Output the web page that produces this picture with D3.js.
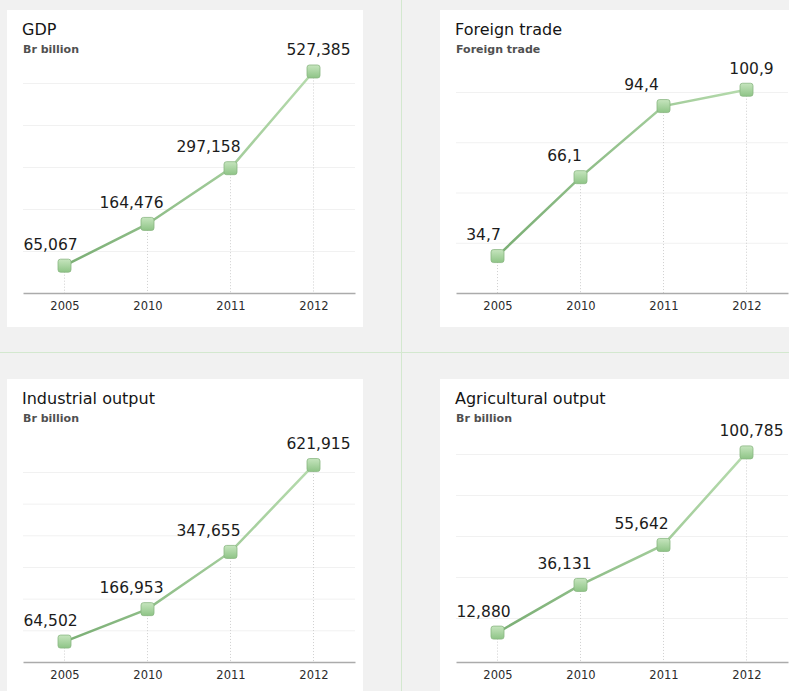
<!DOCTYPE html>
<html>
<head>
<meta charset="utf-8">
<script src="https://cdn.jsdelivr.net/npm/d3@7"></script>
<style>
  body { margin: 0; background: #f1f1f1; }
  svg { display: block; font-family: "DejaVu Sans", Verdana, sans-serif; }
</style>
</head>
<body>
<svg width="789" height="691"></svg>
<script>
// Data
var years = ["2005", "2010", "2011", "2012"];
var gdp = [65067, 164476, 297158, 527385];
var foreignTrade = [34.7, 66.1, 94.4, 100.9];
var industrialOutput = [64502, 166953, 347655, 621915];
var agriculturalOutput = [12880, 36131, 55642, 100785];

var titles = ["GDP", "Foreign trade", "Industrial output", "Agricultural output"];
var subtitles = ["Br billion", "Foreign trade", "Br billion", "Br billion"];

// value axis: domain and grid step for each panel
var yDomains = [[0, 500000], [20, 100], [0, 600000], [0, 100000]];
var ySteps = [100000, 20, 100000, 20000];

// layout
var origins = [[7, 10], [440, 10], [7, 379], [440, 379]];
var panelW = 356, panelH = 317;
var plotLeft = 16, plotRight = 348, baseline = 283;
var yLowPx = [283, 283, 283, 280];
var yTopPx = [73, 82, 93, 75];
var labelShift = [-14, -16, -22, 5];

var decimalComma = d3.formatLocale({ decimal: ",", thousands: " ", grouping: [3] });
var formats = [d3.format(","), decimalComma.format(".1f"), d3.format(","), d3.format(",")];

var series = [gdp, foreignTrade, industrialOutput, agriculturalOutput];

var svg = d3.select("svg");
var defs = svg.append("defs");

var marker = defs.append("linearGradient")
  .attr("id", "markerFill")
  .attr("x1", 0).attr("y1", 0).attr("x2", 0).attr("y2", 1);
marker.append("stop").attr("offset", "0%").attr("stop-color", "#c6e5be");
marker.append("stop").attr("offset", "100%").attr("stop-color", "#8ec486");

svg.append("rect").attr("width", 789).attr("height", 691).attr("fill", "#f1f1f1");

// thin green separators
svg.append("line").attr("x1", 401.5).attr("x2", 401.5).attr("y1", 0).attr("y2", 691)
  .attr("stroke", "#d3e8cf").attr("stroke-width", 1);
svg.append("line").attr("x1", 0).attr("x2", 789).attr("y1", 352.5).attr("y2", 352.5)
  .attr("stroke", "#d3e8cf").attr("stroke-width", 1);

series.forEach(function(values, i) {
  var g = svg.append("g")
    .attr("transform", "translate(" + origins[i][0] + "," + origins[i][1] + ")");

  g.append("rect").attr("width", panelW).attr("height", panelH).attr("fill", "#fff");

  var x = d3.scalePoint().domain(years).range([plotLeft, plotRight]).padding(0.5);
  var y = d3.scaleLinear().domain(yDomains[i]).range([yLowPx[i], yTopPx[i]]);

  // title
  g.append("text").attr("x", 15).attr("y", 25)
    .attr("font-size", 16).attr("fill", "#151515").text(titles[i]);
  g.append("text").attr("x", 16).attr("y", 43)
    .attr("font-size", 11).attr("font-weight", "bold").attr("fill", "#505050").text(subtitles[i]);

  // faint grid
  var lo = yDomains[i][0], hi = yDomains[i][1], step = ySteps[i];
  var grid = g.append("g")
    .attr("transform", "translate(" + plotLeft + ",0)")
    .call(d3.axisLeft(y).tickValues(d3.range(lo + step, hi + step / 2, step))
      .tickSize(-(plotRight - plotLeft)).tickFormat(""));
  grid.select(".domain").remove();
  grid.selectAll(".tick line").attr("stroke", "#f1f1f1");

  // drop lines
  g.append("g").selectAll("line")
    .data(values)
    .enter().append("line")
    .attr("x1", function(d, j) { return x(years[j]); })
    .attr("x2", function(d, j) { return x(years[j]); })
    .attr("y1", function(d) { return y(d); })
    .attr("y2", baseline)
    .attr("stroke", "#cfcfcf")
    .attr("stroke-dasharray", "1,2");

  // x axis
  var axis = g.append("g")
    .attr("transform", "translate(0," + baseline + ")")
    .call(d3.axisBottom(x).tickSize(0).tickPadding(9));
  axis.select(".domain").attr("stroke", "#ababab").attr("stroke-width", 1.5);
  axis.selectAll("text")
    .attr("font-family", "DejaVu Sans, Verdana, sans-serif")
    .attr("font-size", 11.5).attr("fill", "#2a2a2a");

  // line with left-to-right gradient (coords are the panel's own)
  var gid = "lineFill" + i;
  var lg = defs.append("linearGradient")
    .attr("id", gid)
    .attr("gradientUnits", "userSpaceOnUse")
    .attr("x1", x(years[0])).attr("x2", x(years[years.length - 1]))
    .attr("y1", 0).attr("y2", 0);
  lg.append("stop").attr("offset", "0%").attr("stop-color", "#7aae74");
  lg.append("stop").attr("offset", "100%").attr("stop-color", "#b6dbad");

  var line = d3.line()
    .x(function(d, j) { return x(years[j]); })
    .y(function(d) { return y(d); });

  g.append("path")
    .datum(values)
    .attr("d", line)
    .attr("fill", "none")
    .attr("stroke", "url(#" + gid + ")")
    .attr("stroke-width", 2.5);

  // markers
  g.append("g").selectAll("rect")
    .data(values)
    .enter().append("rect")
    .attr("x", function(d, j) { return x(years[j]) - 6.5; })
    .attr("y", function(d) { return y(d) - 6.5; })
    .attr("width", 13).attr("height", 13)
    .attr("rx", 2.5)
    .attr("fill", "url(#markerFill)")
    .attr("stroke", "#89b682")
    .attr("stroke-width", 0.8);

  // value labels
  g.append("g").selectAll("text")
    .data(values)
    .enter().append("text")
    .attr("x", function(d, j) { return x(years[j]) + labelShift[j]; })
    .attr("y", function(d) { return y(d) - 16; })
    .attr("text-anchor", "middle")
    .attr("font-size", 15.5)
    .attr("fill", "#1c1c1c")
    .text(function(d) { return formats[i](d); });
});
</script>
</body>
</html>
